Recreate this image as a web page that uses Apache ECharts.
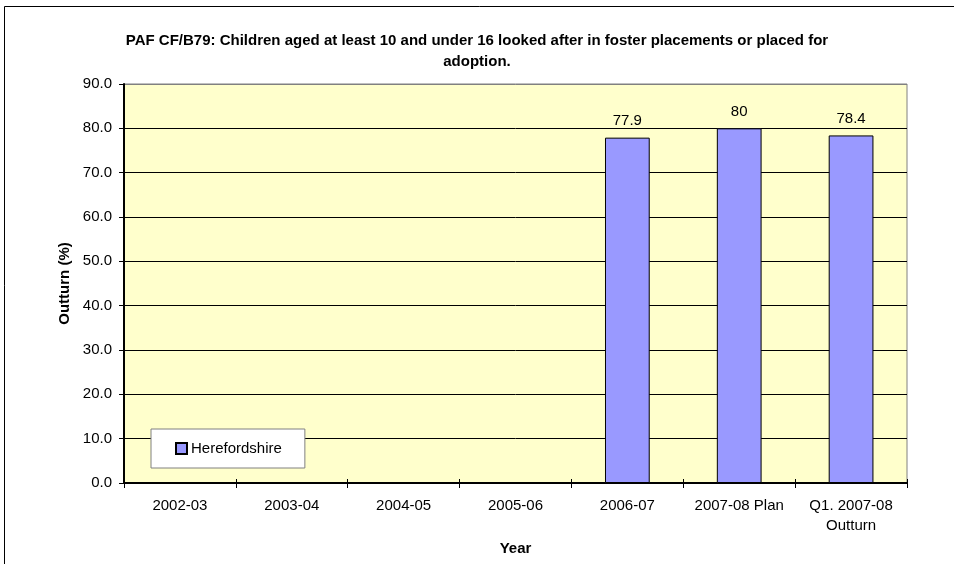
<!DOCTYPE html>
<html>
<head>
<meta charset="utf-8">
<script src="https://cdn.jsdelivr.net/npm/echarts@6/dist/echarts.min.js"></script>
<style>
  html, body { margin: 0; padding: 0; background: #fff; }
  #chart { width: 954px; height: 564px; }
</style>
</head>
<body>
<div id="chart"></div>
<script>
// Reporting periods on the category axis
const categories = ['2002-03', '2003-04', '2004-05', '2005-06', '2006-07', '2007-08 Plan', 'Q1. 2007-08\nOutturn'];
// Outturn (%) for Herefordshire; earlier years have no figure
const herefordshire = [null, null, null, null, 77.9, 80, 78.4];
// Value axis range
const yMin = 0;
const yMax = 90;
const yStep = 10;

const font = 'Liberation Sans, Arial, sans-serif';
const chart = echarts.init(document.getElementById('chart'), null, { renderer: 'canvas' });

// gridlines black, except the top edge of the plot which is grey
const splitColors = [];
for (let v = yMin; v <= yMax; v += yStep) splitColors.push(v === yMax ? '#808080' : '#000000');

chart.setOption({
  backgroundColor: '#ffffff',
  animation: false,
  title: {
    text: 'PAF CF/B79: Children aged at least 10 and under 16 looked after in foster placements or placed for\nadoption.',
    left: 'center',
    top: 25,
    textStyle: { fontFamily: font, fontSize: 15, fontWeight: 'bold', color: '#000', lineHeight: 21 }
  },
  graphic: [{
    type: 'rect',
    shape: { x: 4.5, y: 6.5, width: 1200, height: 1000 },
    style: { fill: 'none', stroke: '#000', lineWidth: 1 },
    silent: true,
    z: 100
  }],
  legend: {
    data: ['Herefordshire'],
    left: 151,
    top: 429,
    orient: 'vertical',
    backgroundColor: '#ffffff',
    borderColor: '#808080',
    borderWidth: 1,
    padding: [12, 23, 12, 24],
    itemWidth: 11,
    itemHeight: 11,
    icon: 'rect',
    textStyle: { fontFamily: font, fontSize: 15, color: '#000', padding: [0, 0, 0, -1] }
  },
  grid: {
    left: 124, right: 47, top: 84, bottom: 81,
    show: true,
    backgroundColor: '#FFFFCC',
    borderColor: '#808080',
    borderWidth: 1
  },
  xAxis: [{
    type: 'category',
    data: categories,
    boundaryGap: true,
    name: 'Year',
    nameLocation: 'middle',
    nameGap: 57,
    nameTextStyle: { fontFamily: font, fontSize: 15, fontWeight: 'bold', color: '#000' },
    axisLine: { lineStyle: { color: '#000', width: 2 } },
    axisTick: { show: true, interval: 0, length: 5, lineStyle: { color: '#000' } },
    axisLabel: { interval: 0, margin: 13, fontFamily: font, fontSize: 15, color: '#000', lineHeight: 20 }
  }, {
    // inner half of the crossing tick marks
    type: 'category',
    data: categories,
    position: 'bottom',
    boundaryGap: true,
    axisLine: { show: false },
    axisTick: { show: true, inside: true, interval: 0, length: 4, lineStyle: { color: '#000' } },
    axisLabel: { show: false }
  }],
  yAxis: {
    type: 'value',
    min: yMin,
    max: yMax,
    interval: yStep,
    name: 'Outturn (%)',
    nameLocation: 'middle',
    nameGap: 23,
    nameRotate: 90,
    nameTextStyle: { fontFamily: font, fontSize: 15, fontWeight: 'bold', color: '#000' },
    axisLine: { show: true, lineStyle: { color: '#000', width: 2 } },
    axisTick: { show: true, length: 5, lineStyle: { color: '#000' } },
    axisLabel: {
      margin: 12,
      fontFamily: font, fontSize: 15, color: '#000',
      formatter: v => v.toFixed(1)
    },
    splitLine: { show: true, lineStyle: { color: splitColors, width: 1 } }
  },
  series: [{
    name: 'Herefordshire',
    type: 'bar',
    data: herefordshire,
    barWidth: '40%',
    itemStyle: { color: '#9999FF', borderColor: '#000', borderWidth: 1 },
    label: {
      show: true,
      position: 'top',
      distance: 9,
      fontFamily: font, fontSize: 15, color: '#000'
    }
  }]
});
</script>
</body>
</html>
